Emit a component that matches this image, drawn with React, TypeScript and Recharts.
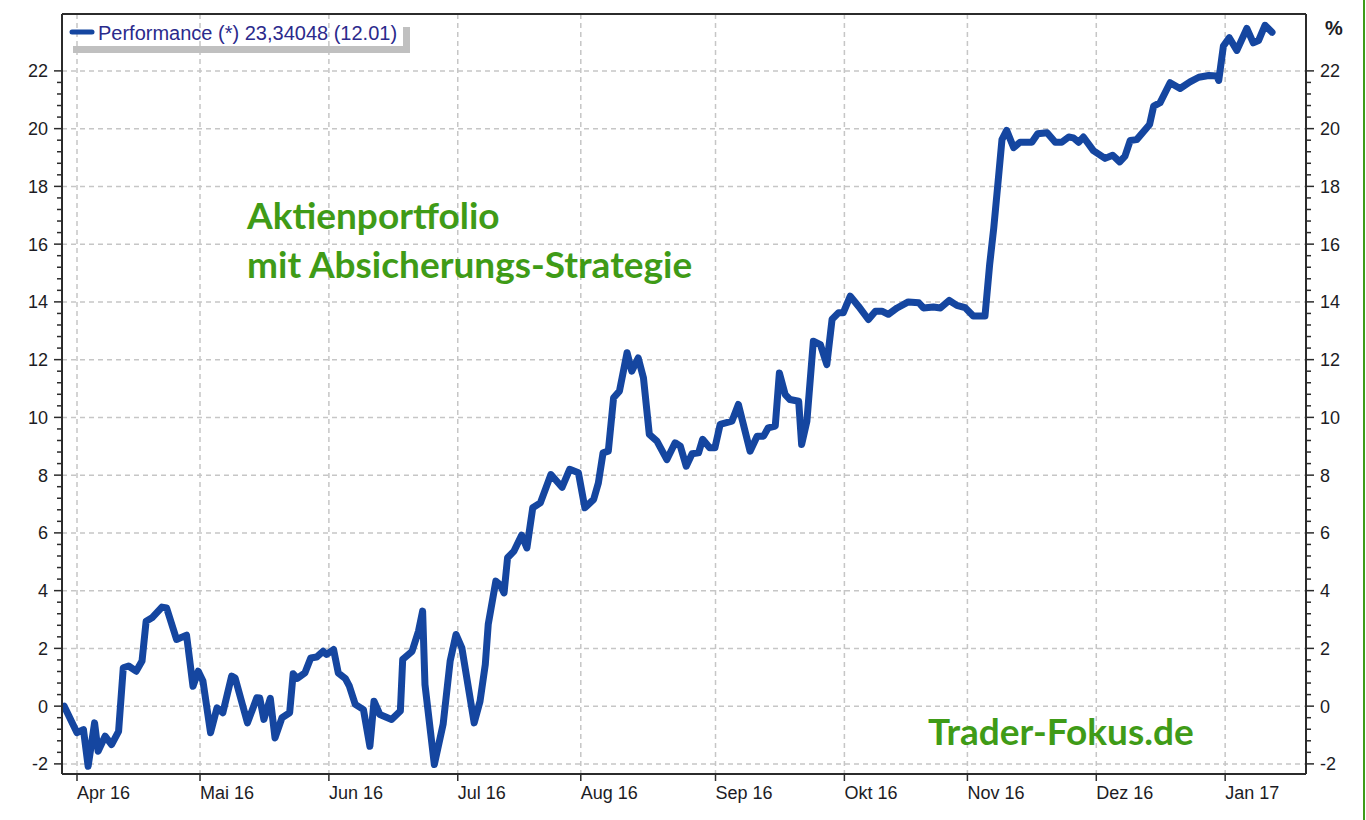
import { LineChart, Line, XAxis, YAxis, CartesianGrid, ReferenceLine } from "recharts";

// x = weekday index counted from Tue 29 Mar 2016, y = performance in %
const DAY_POS = [
  0.8, 3.0, 4.1, 4.9, 6.0, 6.6, 7.8, 8.9, 10.1, 10.9,
  11.8, 13.1, 14.1, 14.8, 15.8, 17.5, 18.3, 20.0, 21.7, 22.8,
  23.7, 24.5, 25.8, 26.9, 27.9, 29.4, 30.0, 32.1, 33.7, 34.2,
  34.9, 36.0, 36.8, 38.0, 39.3, 39.9, 40.6, 41.9, 42.9, 43.9,
  45.0, 45.6, 46.8, 47.6, 48.8, 49.5, 50.5, 51.9, 53.0,
  53.7, 54.7, 56.7, 58.2, 58.6, 60.2, 61.3, 62.0, 62.4, 64.0,
  65.5, 66.7, 67.7, 68.7, 70.8, 71.8, 72.7, 73.2, 74.5, 75.2,
  75.9, 76.5, 77.6, 78.9, 79.8, 80.8, 82.1, 83.9, 85.8, 87.1,
  88.6, 89.7, 91.2, 92.0, 92.8, 93.7, 94.6, 95.6, 96.9, 97.7,
  98.8, 99.7, 100.7, 102.0, 103.7, 105.1, 106.0, 107.0, 108.0, 109.1,
  109.8, 111.0, 111.9, 112.8, 114.8, 115.9, 117.9, 119.1, 120.2, 121.0,
  122.2, 122.9, 123.9, 124.7, 126.2, 126.7, 127.6, 128.7, 129.9, 131.0,
  131.9, 133.0, 133.8, 135.0, 136.4, 138.1, 139.3, 140.4, 141.5, 143.0,
  144.9, 146.7, 147.5, 149.2, 150.4, 151.9, 153.2, 154.6, 156.0, 158.0,
  158.8, 159.5, 160.3, 160.9, 161.7, 162.9, 164.0, 166.0, 167.0, 168.6,
  170.0, 171.1, 172.3, 173.1, 174.0, 174.8, 176.5, 178.5, 179.8, 181.0,
  181.9, 182.8, 183.9, 186.1, 186.8, 187.9, 189.6, 191.3, 193.0, 194.5,
  196.2, 197.6, 197.9, 198.7, 199.7, 201.0, 202.7, 203.8, 204.7, 205.8,
  207.0,
];

const PERF = [
  0, -0.92, -0.81, -2.08, -0.58, -1.56, -1.04, -1.33, -0.87, 1.33,
  1.39, 1.21, 1.56, 2.94, 3.06, 3.43, 3.40, 2.31, 2.46, 0.69,
  1.21, 0.87, -0.92, -0.06, -0.23, 1.04, 0.97, -0.58, 0.29, 0.28,
  -0.46, 0.27, -1.10, -0.40, -0.23, 1.12, 0.96, 1.15, 1.67, 1.70,
  1.90, 1.79, 1.96, 1.15, 0.96, 0.69, 0.06, -0.12, -1.39,
  0.17, -0.29, -0.46, -0.17, 1.62, 1.90, 2.60, 3.29, 0.75, -2.02,
  -0.63, 1.56, 2.48, 2.02, -0.58, 0.17, 1.44, 2.83, 4.33, 4.21,
  3.92, 5.14, 5.37, 5.92, 5.48, 6.87, 7.04, 8.02, 7.58, 8.20,
  8.08, 6.87, 7.16, 7.73, 8.77, 8.83, 10.68, 10.91, 12.24, 11.60,
  12.06, 11.37, 9.41, 9.18, 8.54, 9.12, 9.00, 8.31, 8.74, 8.77,
  9.24, 8.95, 8.95, 9.76, 9.87, 10.45, 8.83, 9.35, 9.35, 9.64,
  9.70, 11.54, 10.79, 10.62, 10.56, 9.06, 9.87, 12.64, 12.52, 11.83,
  13.40, 13.62, 13.62, 14.20, 13.85, 13.39, 13.68, 13.68, 13.57, 13.79,
  14.00, 13.97, 13.79, 13.82, 13.79, 14.05, 13.88, 13.80, 13.51, 13.51,
  15.30, 16.56, 18.30, 19.62, 19.94, 19.34, 19.53, 19.53, 19.82, 19.86,
  19.53, 19.53, 19.71, 19.68, 19.53, 19.71, 19.24, 18.97, 19.08, 18.85,
  19.05, 19.59, 19.62, 20.14, 20.78, 20.90, 21.59, 21.39, 21.62, 21.78,
  21.84, 21.82, 21.67, 22.86, 23.15, 22.71, 23.47, 22.97, 23.05, 23.58,
  23.34,
];

// first weekday of each month on the same index
const MONTH_POS = [3, 24, 46, 68, 89, 112, 134, 155, 177, 199];
const MONTH_LABELS = ["Apr 16", "Mai 16", "Jun 16", "Jul 16", "Aug 16", "Sep 16", "Okt 16", "Nov 16", "Dez 16", "Jan 17"];
const Y_MAJOR = [-2, 0, 2, 4, 6, 8, 10, 12, 14, 16, 18, 20, 22];
const X_DOMAIN = [0.44, 212.8];
const Y_DOMAIN = [-2.35, 23.97];

const LEGEND_TEXT = "Performance (*) 23,34048 (12.01)";

const LINE_COLOR = "#1546a0";
const AXIS_COLOR = "#2b2b2b";
const GREEN = "#3f9b17";
const FONT = "'Liberation Sans', Arial, sans-serif";
const NOTE_FONT = "Lato, 'Open Sans', sans-serif";

// major ticks plus four minor steps in between
const Y_TICKS: number[] = [];
Y_MAJOR.forEach((m, i) => {
  Y_TICKS.push(m);
  if (i < Y_MAJOR.length - 1) {
    for (let k = 1; k < 5; k++) Y_TICKS.push(Math.round((m + k * 0.4) * 10) / 10);
  }
});

const data = DAY_POS.map((d, i) => ({ d, v: PERF[i] }));

function YTick(props: any) {
  const { x, y, payload, side } = props;
  const v = payload.value;
  const major = Math.abs(v - Math.round(v)) < 1e-6 && Math.round(v) % 2 === 0;
  const dir = side === "left" ? -1 : 1;
  const len = major ? 8 : 5;
  return (
    <g>
      <line x1={x} x2={x + dir * len} y1={y} y2={y} stroke={AXIS_COLOR} strokeWidth={1.5} />
      {major && (
        <text
          x={x + dir * 14}
          y={y}
          dy="0.36em"
          textAnchor={side === "left" ? "end" : "start"}
          fontSize={18}
          fontFamily={FONT}
          fill="#1c1c24"
        >
          {v}
        </text>
      )}
    </g>
  );
}

function XTick(props: any) {
  const { x, y, payload } = props;
  const idx = MONTH_POS.indexOf(payload.value);
  return (
    <g>
      <line x1={x} x2={x} y1={y} y2={y + 7} stroke={AXIS_COLOR} strokeWidth={1.5} />
      <text x={x} y={y + 25} textAnchor="start" fontSize={18} fontFamily={FONT} fill="#1c1c24">
        {MONTH_LABELS[idx]}
      </text>
    </g>
  );
}

export default function App() {
  return (
    <div style={{ position: "relative", width: 1366, height: 820, background: "#fff", overflow: "hidden" }}>
      <style>{"body{margin:0}"}</style>
      <LineChart width={1366} height={820} data={data} margin={{ top: 14, right: 0, bottom: 0, left: 0 }}>
        <CartesianGrid
          stroke="#c6c6c6"
          strokeDasharray="5 4"
          strokeWidth={1.5}
          horizontalValues={Y_MAJOR}
          verticalValues={MONTH_POS}
        />
        <XAxis
          dataKey="d"
          type="number"
          domain={X_DOMAIN}
          ticks={MONTH_POS}
          interval={0}
          allowDataOverflow
          height={46}
          tickSize={0}
          tickMargin={0}
          tickLine={false}
          axisLine={{ stroke: AXIS_COLOR, strokeWidth: 2 }}
          tick={(p: any) => <XTick {...p} />}
        />
        <YAxis
          type="number"
          domain={Y_DOMAIN}
          ticks={Y_TICKS}
          interval={0}
          allowDataOverflow
          width={62}
          tickSize={0}
          tickMargin={0}
          tickLine={false}
          axisLine={{ stroke: AXIS_COLOR, strokeWidth: 2 }}
          tick={(p: any) => <YTick {...p} side="left" />}
        />
        <YAxis
          yAxisId="right"
          orientation="right"
          type="number"
          domain={Y_DOMAIN}
          ticks={Y_TICKS}
          interval={0}
          allowDataOverflow
          width={60}
          tickSize={0}
          tickMargin={0}
          tickLine={false}
          axisLine={{ stroke: AXIS_COLOR, strokeWidth: 2 }}
          tick={(p: any) => <YTick {...p} side="right" />}
        />
        <ReferenceLine y={Y_DOMAIN[1]} stroke={AXIS_COLOR} strokeWidth={2} />
        <Line
          type="linear"
          dataKey="v"
          stroke={LINE_COLOR}
          strokeWidth={7}
          strokeLinejoin="round"
          strokeLinecap="round"
          dot={false}
          isAnimationActive={false}
        />
      </LineChart>
      <svg
        width={1366}
        height={820}
        style={{ position: "absolute", left: 0, top: 0, pointerEvents: "none" }}
      >
        {/* legend with its grey drop shadow */}
        <rect x={73} y={46} width={337} height={7} fill="#c0c0c0" />
        <rect x={403} y={27} width={7} height={26} fill="#c0c0c0" />
        <line x1={72} x2={92} y1={32} y2={32} stroke={LINE_COLOR} strokeWidth={5} strokeLinecap="round" />
        <text x={98} y={40} fontSize={20} fontFamily={FONT} fill="#2b2a8c">
          {LEGEND_TEXT}
        </text>
        <text x={1325} y={35} fontSize={20} fontWeight="bold" fontFamily={FONT} fill="#1c1c24">
          %
        </text>
        <text x={247} y={229} fontSize={37} fontWeight="bold" fontFamily={NOTE_FONT} fill={GREEN}>
          Aktienportfolio
        </text>
        <text x={247} y={278} fontSize={37} fontWeight="bold" fontFamily={NOTE_FONT} fill={GREEN}>
          mit Absicherungs-Strategie
        </text>
        <text x={928} y={745} fontSize={37} fontWeight="bold" fontFamily={NOTE_FONT} fill={GREEN}>
          Trader-Fokus.de
        </text>
        <rect x={1363} y={0} width={2} height={820} fill={GREEN} />
      </svg>
    </div>
  );
}
